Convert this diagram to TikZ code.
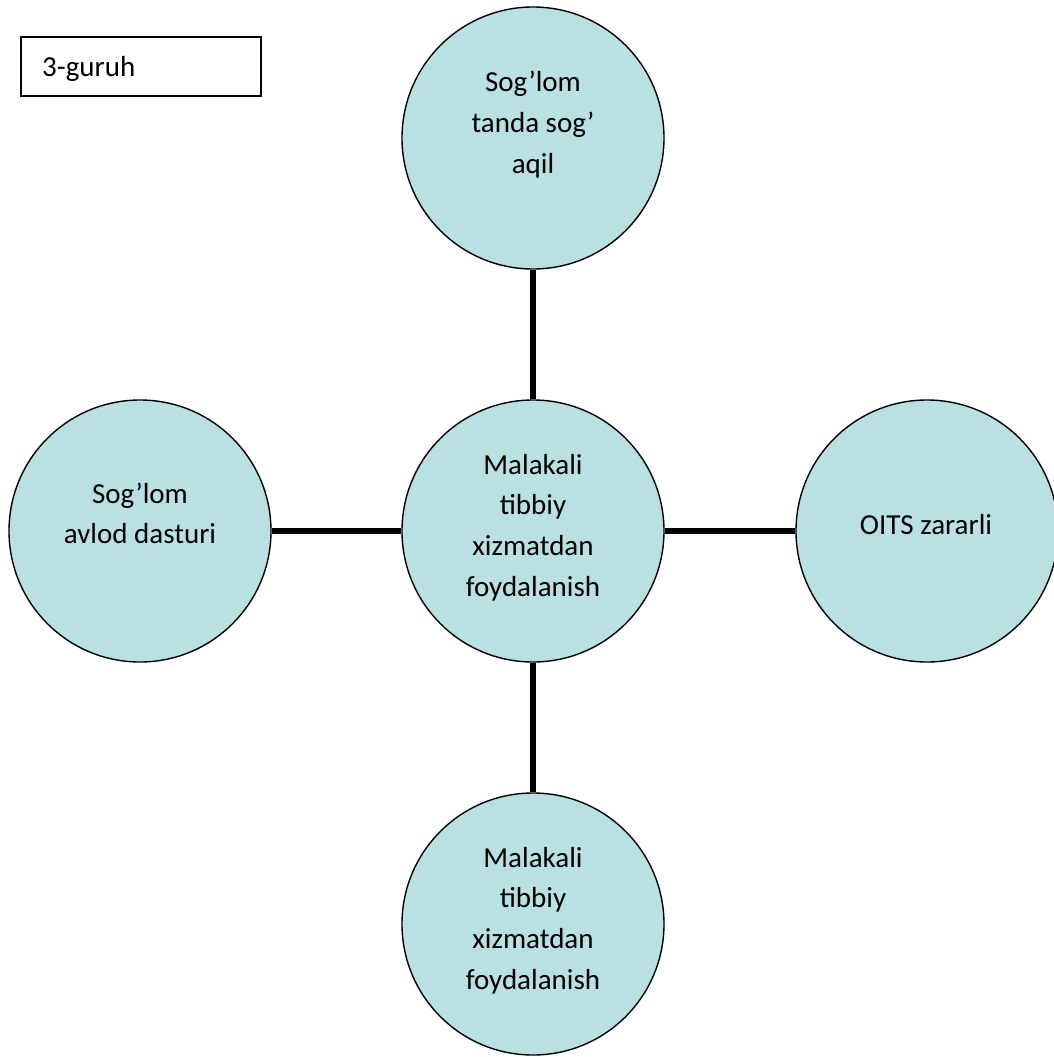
\documentclass[tikz,border=0pt]{standalone}
\usepackage{fontspec}
\setmainfont{Carlito}
\definecolor{bubfill}{RGB}{185,224,227}
\begin{document}
\begin{tikzpicture}[x=1pt,y=-1pt,
  bub/.style={circle,draw=black,line width=1.4pt,fill=bubfill,minimum size=262pt,inner sep=0pt},
  conn/.style={line width=5.5pt,draw=black},
  lbl/.style={anchor=base,inner sep=0pt,font=\fontsize{29}{40.7}\selectfont},
  tagbox/.style={draw=black,line width=2pt,minimum width=240pt,minimum height=59pt,inner sep=0pt}]
\useasboundingbox (0,0) rectangle (1053,1057);
\node[tagbox] (tag) at (141,66.5) {};
\node[anchor=base west,inner sep=0pt,font=\fontsize{29}{40.7}\selectfont] (tagtext) at (42,77) {3-guruh};
\node[bub] (top) at (533,138) {};
\node[bub] (mid) at (533,531) {};
\node[bub] (left) at (140,531) {};
\node[bub] (right) at (927,531) {};
\node[bub] (bot) at (533,924) {};
\draw[conn] (top.south) -- (mid.north);
\draw[conn] (mid.south) -- (bot.north);
\draw[conn] (left.east) -- (mid.west);
\draw[conn] (mid.east) -- (right.west);
\node[lbl] (toptext) at (533,92) {\parbox[t]{240pt}{\centering Sog’lom\\tanda sog’\\aqil}};
\node[lbl] (midtext) at (533,474) {\parbox[t]{240pt}{\centering Malakali\\tibbiy\\xizmatdan\\foydalanish}};
\node[lbl] (lefttext) at (140,503) {\parbox[t]{240pt}{\centering Sog’lom\\avlod dasturi}};
\node[lbl] (righttext) at (926,534) {OITS zararli};
\node[lbl] (bottext) at (533,867) {\parbox[t]{240pt}{\centering Malakali\\tibbiy\\xizmatdan\\foydalanish}};
\end{tikzpicture}
\end{document}
